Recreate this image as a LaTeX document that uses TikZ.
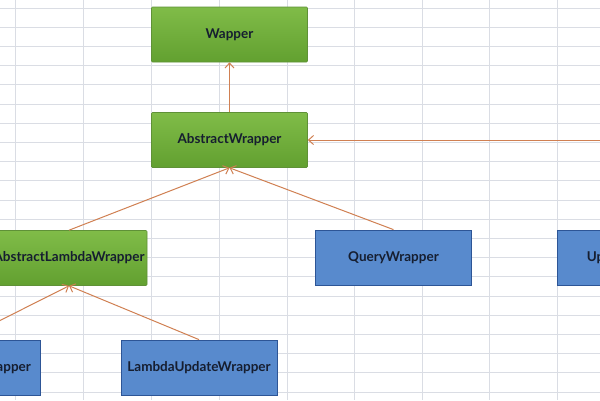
\documentclass[tikz,border=0pt]{standalone}
\usepackage{fontspec}
\setmainfont{Lato}
\usetikzlibrary{arrows.meta}
\definecolor{gridc}{RGB}{218,221,228}
\definecolor{gtop}{RGB}{128,188,72}
\definecolor{gbot}{RGB}{98,160,48}
\definecolor{gbord}{RGB}{95,145,55}
\definecolor{bfill}{RGB}{88,138,205}
\definecolor{bbord}{RGB}{45,85,150}
\definecolor{arr}{RGB}{208,128,82}
\definecolor{txt}{RGB}{22,30,48}
\tikzset{
  gbox/.style={draw=gbord, line width=0.6pt, top color=gtop, bottom color=gbot, minimum width=156pt, minimum height=55pt, inner sep=0pt, font=\bfseries\fontsize{13.5}{15}\selectfont, text=txt, rounded corners=1pt},
  bbox/.style={draw=bbord, line width=0.8pt, fill=bfill, minimum width=156pt, minimum height=55pt, inner sep=0pt, font=\bfseries\fontsize{13.5}{15}\selectfont, text=txt},
  conn/.style={draw=arr, line width=1pt, -{Straight Barb[length=5pt,width=9pt]}}
}
\begin{document}
\begin{tikzpicture}[x=1pt,y=-1pt]
\useasboundingbox (0,0) rectangle (600,400);
\clip (0,0) rectangle (600,400);
\fill[white] (0,0) rectangle (600,400);
% spreadsheet grid
\foreach \gx in {15,83,151,219,287,354,422,489,557}
  \draw[gridc, line width=0.8pt] (\gx,0) -- (\gx,400);
\foreach \k in {0,...,20}
  \draw[gridc, line width=0.8pt] (0,{8+19.2*\k}) -- (600,{8+19.2*\k});
% nodes
\node[gbox] (wap) at (229.5,34.5) {Wapper};
\node[gbox] (aw) at (229.5,140) {AbstractWrapper};
\node[gbox] (alw) at (69,258) {AbstractLambdaWrapper};
\node[bbox] (qw) at (393.5,257.5) {QueryWrapper};
\node[bbox] (uw) at (635,257.5) {UpdateWrapper};
\node[bbox] (lqw) at (-38,367.5) {LambdaQueryWrapper};
\node[bbox] (luw) at (199,367.5) {LambdaUpdateWrapper};
\coordinate (rfar) at (700,140);
% connectors
\draw[conn] (aw.north) -- (wap.south);
\draw[conn] (alw.north) -- (aw.south);
\draw[conn] (qw.north) -- (aw.south);
\draw[conn] (rfar) -- (aw.east);
\draw[conn] (luw.north) -- (alw.south);
\draw[conn] (lqw.north) -- (alw.south);
\end{tikzpicture}
\end{document}
